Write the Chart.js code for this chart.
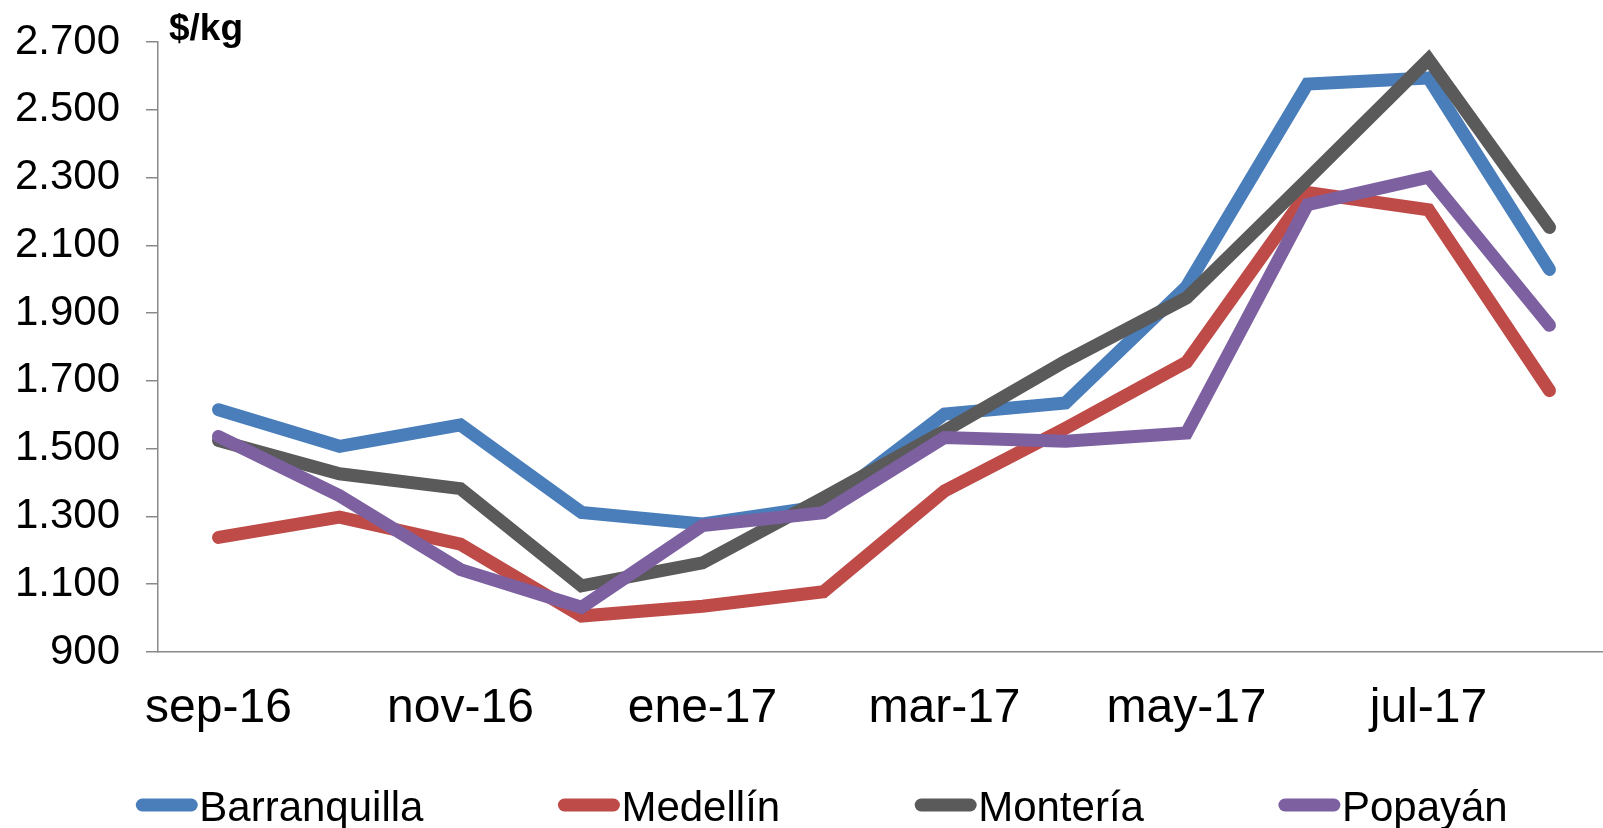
<!DOCTYPE html>
<html>
<head>
<meta charset="utf-8">
<script src="https://cdn.jsdelivr.net/npm/chart.js@4.4.0/dist/chart.umd.min.js"></script>
<style>
  html, body { margin: 0; padding: 0; background: #fff; overflow: hidden; }
</style>
</head>
<body>
<canvas id="chart" width="1610" height="828"></canvas>
<script>
// precios mensuales ($/kg) por ciudad
const months = ['sep-16', 'oct-16', 'nov-16', 'dic-16', 'ene-17', 'feb-17',
                'mar-17', 'abr-17', 'may-17', 'jun-17', 'jul-17', 'ago-17'];
const barranquilla = [1615, 1507, 1570, 1312, 1278, 1330, 1602, 1635, 1978, 2576, 2594, 2029];
const medellin     = [1238, 1298, 1218, 1006, 1035, 1078, 1375, 1560, 1755, 2256, 2205, 1671];
const monteria     = [1524, 1426, 1382, 1095, 1163, 1355, 1552, 1758, 1945, 2295, 2649, 2153];
const popayan      = [1536, 1361, 1143, 1032, 1273, 1311, 1533, 1522, 1546, 2220, 2301, 1864];
const unitLabel = '$/kg';

const FONT = '"Liberation Sans", Arial, sans-serif';

function fmtMiles(v) {
  return String(v).replace(/\B(?=(\d{3})+(?!\d))/g, '.');
}

// titulo de unidades y leyenda dibujados sobre el canvas
const extras = {
  id: 'extras',
  afterDraw(chart) {
    const ctx = chart.ctx;
    ctx.save();
    ctx.fillStyle = '#000';
    ctx.textAlign = 'left';
    ctx.textBaseline = 'alphabetic';
    ctx.font = 'bold 37px ' + FONT;
    ctx.fillText(unitLabel, 169, 40);

    ctx.font = '42px ' + FONT;
    const sets = chart.data.datasets;
    const widths = sets.map(d => ctx.measureText(d.label).width);
    const markW = 61, markGap = 2, itemGap = 135;
    const total = widths.reduce((a, w) => a + markW + markGap + w, 0) + itemGap * (sets.length - 1);
    let x = 822 - total / 2;
    sets.forEach((d, i) => {
      ctx.strokeStyle = d.borderColor;
      ctx.lineWidth = 13;
      ctx.lineCap = 'round';
      ctx.beginPath();
      ctx.moveTo(x + 6, 805);
      ctx.lineTo(x + markW - 6, 805);
      ctx.stroke();
      ctx.fillText(d.label, x + markW + markGap, 821);
      x += markW + markGap + widths[i] + itemGap;
    });
    ctx.restore();
  }
};

function serie(label, data, color, order) {
  return {
    label: label,
    data: data,
    borderColor: color,
    backgroundColor: color,
    borderWidth: 13,
    borderCapStyle: 'round',
    borderJoinStyle: 'miter',
    pointRadius: 0,
    pointHoverRadius: 0,
    tension: 0,
    order: order
  };
}

new Chart(document.getElementById('chart'), {
  type: 'line',
  data: {
    labels: months,
    datasets: [
      serie('Barranquilla', barranquilla, '#4a7ebb', 4),
      serie('Medellín', medellin, '#be4b48', 3),
      serie('Montería', monteria, '#5a5a5a', 2),
      serie('Popayán', popayan, '#7d60a0', 1)
    ]
  },
  options: {
    responsive: false,
    animation: false,
    layout: { padding: { top: 42, bottom: 96, left: 0, right: 0 } },
    plugins: {
      legend: { display: false },
      tooltip: { enabled: false }
    },
    scales: {
      x: {
        offset: true,
        grid: { display: false, drawTicks: false },
        border: { display: true, color: '#898989', width: 1.5 },
        ticks: {
          autoSkip: false,
          maxRotation: 0,
          padding: 28,
          color: '#000',
          font: { family: FONT, size: 48 },
          callback: function(value, index) {
            return index % 2 === 0 ? this.getLabelForValue(value) : '';
          }
        },
        afterFit: function(scale) { scale.height = 80; }
      },
      y: {
        min: 900,
        max: 2700,
        grid: { drawOnChartArea: false, drawTicks: true, tickLength: 12, color: '#898989', lineWidth: 1.5 },
        border: { display: true, color: '#898989', width: 1.5 },
        ticks: {
          stepSize: 200,
          padding: 26,
          color: '#000',
          font: { family: FONT, size: 42 },
          callback: v => fmtMiles(v)
        },
        afterFit: function(scale) {
          scale.width = 158;
          scale.paddingTop = 0;
          scale.paddingBottom = 0;
        }
      }
    }
  },
  plugins: [extras]
});
</script>
</body>
</html>
